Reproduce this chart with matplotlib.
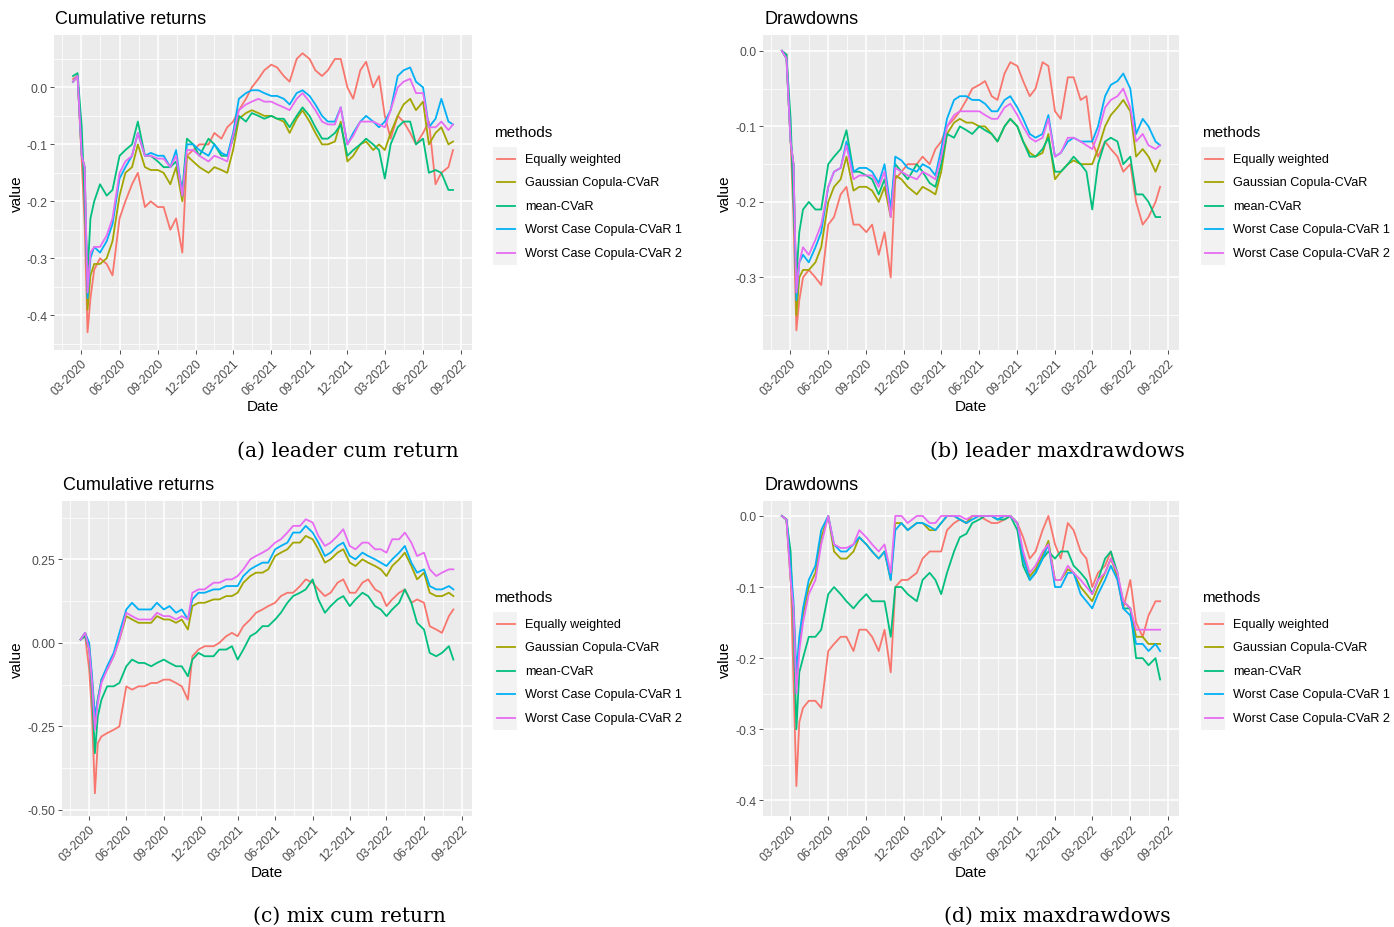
import matplotlib
matplotlib.use("Agg")
import matplotlib.pyplot as plt
import matplotlib.dates as mdates
from matplotlib.ticker import FixedLocator, FormatStrFormatter
from matplotlib.patches import Rectangle
from matplotlib.lines import Line2D
import pandas as pd

plt.rcParams["font.family"] = ["Liberation Sans", "DejaVu Sans"]
plt.rcParams["axes.unicode_minus"] = False

dates = [
    "2020-02-10", "2020-02-21", "2020-03-02", "2020-03-09", "2020-03-16", "2020-03-23", "2020-04-01", "2020-04-15",
    "2020-05-01", "2020-05-15", "2020-06-01", "2020-06-15", "2020-07-01", "2020-07-15", "2020-08-01", "2020-08-15",
    "2020-09-01", "2020-09-15", "2020-10-01", "2020-10-15", "2020-10-30", "2020-11-10", "2020-11-25", "2020-12-10",
    "2021-01-01", "2021-01-15", "2021-02-01", "2021-02-15", "2021-03-01", "2021-03-15", "2021-04-01", "2021-04-15",
    "2021-05-01", "2021-05-15", "2021-06-01", "2021-06-15", "2021-07-01", "2021-07-15", "2021-08-01", "2021-08-15",
    "2021-09-01", "2021-09-15", "2021-10-01", "2021-10-15", "2021-11-01", "2021-11-15", "2021-12-01", "2021-12-15",
    "2022-01-01", "2022-01-15", "2022-02-01", "2022-02-15", "2022-03-01", "2022-03-15", "2022-04-01", "2022-04-15",
    "2022-05-01", "2022-05-15", "2022-06-01", "2022-06-15", "2022-07-01", "2022-07-15", "2022-08-01", "2022-08-12",
]

methods = ["Equally weighted", "Gaussian Copula-CVaR", "mean-CVaR",
           "Worst Case Copula-CVaR 1", "Worst Case Copula-CVaR 2"]
colors = ["#F8766D", "#A3A500", "#00BF7D", "#00B0F6", "#E76BF3"]

# (a) leader cumulative returns
lead_cum_eq = [
    0.015, 0.02, -0.13, -0.24, -0.43, -0.37, -0.32, -0.30,
    -0.31, -0.33, -0.23, -0.20, -0.17, -0.15, -0.21, -0.20,
    -0.21, -0.21, -0.25, -0.23, -0.29, -0.12, -0.11, -0.10,
    -0.10, -0.08, -0.09, -0.07, -0.06, -0.04, -0.02, 0.0,
    0.015, 0.03, 0.04, 0.035, 0.02, 0.01, 0.05, 0.06,
    0.05, 0.03, 0.02, 0.03, 0.05, 0.05, 0.0, -0.02,
    0.03, 0.045, 0.0, 0.02, -0.05, -0.09, -0.05, -0.06,
    -0.08, -0.10, -0.08, -0.06, -0.17, -0.15, -0.14, -0.11,
]
lead_cum_gauss = [
    0.01, 0.02, -0.12, -0.14, -0.39, -0.33, -0.31, -0.31,
    -0.30, -0.27, -0.19, -0.15, -0.14, -0.10, -0.14, -0.145,
    -0.145, -0.15, -0.17, -0.14, -0.20, -0.12, -0.13, -0.14,
    -0.15, -0.14, -0.145, -0.15, -0.11, -0.055, -0.045, -0.04,
    -0.045, -0.05, -0.05, -0.055, -0.06, -0.08, -0.055, -0.04,
    -0.06, -0.08, -0.10, -0.10, -0.095, -0.06, -0.13, -0.12,
    -0.10, -0.095, -0.11, -0.10, -0.11, -0.08, -0.05, -0.03,
    -0.02, -0.04, -0.025, -0.10, -0.08, -0.07, -0.10, -0.095,
]
lead_cum_mcvar = [
    0.02, 0.025, -0.07, -0.20, -0.33, -0.23, -0.20, -0.17,
    -0.19, -0.18, -0.12, -0.11, -0.10, -0.06, -0.12, -0.12,
    -0.13, -0.14, -0.14, -0.13, -0.18, -0.09, -0.10, -0.12,
    -0.09, -0.10, -0.12, -0.12, -0.09, -0.05, -0.06, -0.045,
    -0.05, -0.055, -0.05, -0.055, -0.055, -0.07, -0.05, -0.035,
    -0.05, -0.07, -0.09, -0.09, -0.08, -0.065, -0.12, -0.11,
    -0.10, -0.09, -0.10, -0.11, -0.16, -0.10, -0.07, -0.06,
    -0.06, -0.10, -0.09, -0.15, -0.145, -0.15, -0.18, -0.18,
]
lead_cum_wc1 = [
    0.01, 0.02, -0.12, -0.14, -0.37, -0.30, -0.28, -0.29,
    -0.27, -0.24, -0.16, -0.14, -0.12, -0.08, -0.12, -0.115,
    -0.12, -0.12, -0.14, -0.11, -0.19, -0.10, -0.10, -0.11,
    -0.12, -0.10, -0.115, -0.12, -0.08, -0.02, -0.01, -0.005,
    -0.005, -0.01, -0.015, -0.015, -0.02, -0.03, -0.01, -0.005,
    -0.015, -0.03, -0.05, -0.06, -0.06, -0.035, -0.10, -0.08,
    -0.06, -0.05, -0.06, -0.07, -0.06, -0.04, 0.02, 0.03,
    0.035, 0.01, 0.0, -0.07, -0.055, -0.02, -0.06, -0.065,
]
lead_cum_wc2 = [
    0.01, 0.02, -0.12, -0.14, -0.36, -0.29, -0.28, -0.28,
    -0.26, -0.23, -0.15, -0.13, -0.12, -0.08, -0.12, -0.12,
    -0.125, -0.125, -0.14, -0.12, -0.19, -0.11, -0.11, -0.12,
    -0.13, -0.12, -0.125, -0.13, -0.085, -0.04, -0.03, -0.025,
    -0.02, -0.025, -0.025, -0.03, -0.035, -0.04, -0.02, -0.01,
    -0.025, -0.04, -0.06, -0.065, -0.065, -0.035, -0.10, -0.085,
    -0.06, -0.06, -0.06, -0.065, -0.07, -0.04, 0.0, 0.01,
    0.015, -0.01, -0.01, -0.07, -0.07, -0.06, -0.075, -0.065,
]

# (b) leader drawdowns
lead_dd_eq = [
    0.0, -0.005, -0.12, -0.22, -0.37, -0.33, -0.30, -0.29,
    -0.30, -0.31, -0.23, -0.22, -0.19, -0.18, -0.23, -0.23,
    -0.24, -0.23, -0.27, -0.24, -0.30, -0.17, -0.16, -0.15,
    -0.15, -0.14, -0.15, -0.13, -0.12, -0.10, -0.09, -0.08,
    -0.065, -0.05, -0.045, -0.04, -0.06, -0.065, -0.03, -0.015,
    -0.02, -0.04, -0.06, -0.05, -0.015, -0.02, -0.08, -0.09,
    -0.035, -0.035, -0.065, -0.06, -0.12, -0.14, -0.12, -0.13,
    -0.14, -0.16, -0.15, -0.20, -0.23, -0.22, -0.20, -0.18,
]
lead_dd_gauss = [
    0.0, -0.01, -0.12, -0.15, -0.35, -0.30, -0.29, -0.29,
    -0.28, -0.26, -0.20, -0.18, -0.17, -0.14, -0.185, -0.18,
    -0.18, -0.185, -0.20, -0.18, -0.22, -0.165, -0.17, -0.18,
    -0.19, -0.18, -0.185, -0.19, -0.16, -0.11, -0.095, -0.09,
    -0.095, -0.095, -0.10, -0.10, -0.11, -0.12, -0.10, -0.09,
    -0.10, -0.12, -0.135, -0.14, -0.135, -0.11, -0.17, -0.16,
    -0.15, -0.145, -0.15, -0.15, -0.15, -0.13, -0.10, -0.085,
    -0.075, -0.065, -0.08, -0.14, -0.13, -0.14, -0.16, -0.145,
]
lead_dd_mcvar = [
    0.0, -0.005, -0.09, -0.20, -0.30, -0.24, -0.21, -0.20,
    -0.21, -0.21, -0.15, -0.14, -0.13, -0.105, -0.16, -0.16,
    -0.165, -0.17, -0.19, -0.17, -0.21, -0.15, -0.16, -0.17,
    -0.15, -0.16, -0.175, -0.18, -0.15, -0.11, -0.115, -0.10,
    -0.105, -0.11, -0.10, -0.105, -0.11, -0.12, -0.10, -0.09,
    -0.10, -0.12, -0.14, -0.14, -0.13, -0.115, -0.16, -0.16,
    -0.15, -0.14, -0.15, -0.16, -0.21, -0.15, -0.12, -0.115,
    -0.12, -0.15, -0.14, -0.19, -0.19, -0.20, -0.22, -0.22,
]
lead_dd_wc1 = [
    0.0, -0.01, -0.12, -0.15, -0.33, -0.28, -0.27, -0.28,
    -0.26, -0.24, -0.18, -0.16, -0.155, -0.12, -0.16, -0.155,
    -0.155, -0.16, -0.175, -0.15, -0.21, -0.14, -0.145, -0.155,
    -0.16, -0.15, -0.155, -0.165, -0.13, -0.09, -0.065, -0.06,
    -0.06, -0.065, -0.065, -0.07, -0.08, -0.08, -0.065, -0.06,
    -0.075, -0.09, -0.11, -0.115, -0.11, -0.085, -0.14, -0.135,
    -0.12, -0.115, -0.12, -0.12, -0.12, -0.10, -0.06, -0.045,
    -0.04, -0.03, -0.05, -0.11, -0.09, -0.10, -0.12, -0.125,
]
lead_dd_wc2 = [
    0.0, -0.01, -0.12, -0.15, -0.32, -0.28, -0.26, -0.27,
    -0.25, -0.23, -0.18, -0.16, -0.155, -0.125, -0.17, -0.165,
    -0.165, -0.165, -0.18, -0.16, -0.22, -0.155, -0.16, -0.165,
    -0.17, -0.16, -0.165, -0.17, -0.14, -0.10, -0.085, -0.08,
    -0.08, -0.08, -0.08, -0.085, -0.09, -0.09, -0.075, -0.07,
    -0.085, -0.10, -0.115, -0.12, -0.115, -0.09, -0.14, -0.135,
    -0.115, -0.115, -0.12, -0.125, -0.13, -0.11, -0.075, -0.065,
    -0.06, -0.05, -0.075, -0.12, -0.11, -0.125, -0.13, -0.125,
]

# (c) mix cumulative returns
mix_cum_eq = [
    0.01, 0.02, -0.08, -0.22, -0.45, -0.30, -0.28, -0.27,
    -0.26, -0.25, -0.13, -0.14, -0.13, -0.13, -0.12, -0.12,
    -0.11, -0.11, -0.12, -0.13, -0.17, -0.04, -0.02, -0.01,
    -0.01, 0.0, 0.02, 0.03, 0.02, 0.05, 0.07, 0.09,
    0.10, 0.11, 0.12, 0.14, 0.15, 0.15, 0.17, 0.19,
    0.18, 0.16, 0.14, 0.15, 0.18, 0.19, 0.15, 0.15,
    0.18, 0.19, 0.16, 0.15, 0.11, 0.13, 0.15, 0.16,
    0.12, 0.13, 0.12, 0.05, 0.04, 0.03, 0.08, 0.10,
]
mix_cum_gauss = [
    0.01, 0.03, -0.01, -0.11, -0.23, -0.17, -0.11, -0.08,
    -0.04, 0.01, 0.08, 0.07, 0.06, 0.06, 0.06, 0.08,
    0.07, 0.07, 0.06, 0.07, 0.04, 0.11, 0.12, 0.12,
    0.13, 0.13, 0.14, 0.14, 0.15, 0.18, 0.20, 0.21,
    0.21, 0.22, 0.26, 0.27, 0.28, 0.30, 0.30, 0.32,
    0.31, 0.28, 0.24, 0.25, 0.27, 0.28, 0.24, 0.23,
    0.25, 0.24, 0.23, 0.22, 0.20, 0.23, 0.25, 0.27,
    0.23, 0.19, 0.21, 0.15, 0.14, 0.14, 0.15, 0.14,
]
mix_cum_mcvar = [
    0.01, 0.02, -0.02, -0.15, -0.33, -0.22, -0.17, -0.13,
    -0.13, -0.12, -0.07, -0.05, -0.06, -0.06, -0.07, -0.06,
    -0.05, -0.06, -0.07, -0.07, -0.10, -0.05, -0.03, -0.04,
    -0.04, -0.02, -0.02, -0.01, -0.05, -0.02, 0.02, 0.03,
    0.05, 0.05, 0.07, 0.09, 0.12, 0.14, 0.15, 0.16,
    0.19, 0.13, 0.09, 0.11, 0.13, 0.14, 0.11, 0.13,
    0.15, 0.14, 0.11, 0.10, 0.08, 0.10, 0.12, 0.16,
    0.12, 0.06, 0.04, -0.03, -0.04, -0.03, -0.01, -0.05,
]
mix_cum_wc1 = [
    0.01, 0.03, 0.0, -0.10, -0.22, -0.17, -0.11, -0.07,
    -0.03, 0.03, 0.10, 0.12, 0.10, 0.10, 0.10, 0.12,
    0.10, 0.11, 0.09, 0.10, 0.07, 0.13, 0.15, 0.15,
    0.16, 0.16, 0.17, 0.17, 0.17, 0.20, 0.22, 0.23,
    0.24, 0.24, 0.28, 0.29, 0.30, 0.33, 0.33, 0.35,
    0.33, 0.30, 0.26, 0.27, 0.29, 0.30, 0.26, 0.25,
    0.27, 0.26, 0.25, 0.24, 0.23, 0.25, 0.27, 0.29,
    0.24, 0.21, 0.22, 0.17, 0.16, 0.16, 0.17, 0.16,
]
mix_cum_wc2 = [
    0.01, 0.03, -0.02, -0.12, -0.26, -0.18, -0.12, -0.08,
    -0.04, 0.01, 0.09, 0.08, 0.07, 0.07, 0.07, 0.09,
    0.08, 0.08, 0.07, 0.08, 0.07, 0.15, 0.16, 0.16,
    0.18, 0.18, 0.19, 0.19, 0.20, 0.22, 0.25, 0.26,
    0.27, 0.28, 0.30, 0.31, 0.33, 0.35, 0.35, 0.37,
    0.36, 0.32, 0.29, 0.30, 0.32, 0.34, 0.29, 0.28,
    0.30, 0.30, 0.28, 0.28, 0.27, 0.31, 0.31, 0.33,
    0.30, 0.26, 0.27, 0.22, 0.20, 0.21, 0.22, 0.22,
]

# (d) mix drawdowns
mix_dd_eq = [
    0.0, -0.005, -0.08, -0.23, -0.38, -0.29, -0.27, -0.26,
    -0.26, -0.27, -0.19, -0.18, -0.17, -0.17, -0.19, -0.16,
    -0.16, -0.17, -0.19, -0.16, -0.22, -0.10, -0.09, -0.09,
    -0.08, -0.06, -0.05, -0.05, -0.05, -0.02, -0.01, -0.005,
    -0.01, 0.0, 0.0, -0.005, -0.01, -0.01, -0.005, 0.0,
    -0.01, -0.03, -0.06, -0.05, -0.02, 0.0, -0.04, -0.06,
    -0.01, -0.02, -0.05, -0.06, -0.10, -0.08, -0.07, -0.05,
    -0.09, -0.13, -0.09, -0.15, -0.17, -0.14, -0.12, -0.12,
]
mix_dd_gauss = [
    0.0, -0.005, -0.09, -0.13, -0.24, -0.18, -0.14, -0.10,
    -0.08, -0.03, 0.0, -0.05, -0.06, -0.06, -0.05, -0.03,
    -0.04, -0.05, -0.06, -0.05, -0.09, -0.01, -0.01, -0.02,
    -0.01, -0.01, -0.02, -0.02, -0.01, 0.0, 0.0, -0.005,
    -0.01, 0.0, 0.0, 0.0, 0.0, -0.005, 0.0, 0.0,
    -0.01, -0.055, -0.085, -0.075, -0.055, -0.035, -0.09, -0.09,
    -0.075, -0.08, -0.10, -0.11, -0.12, -0.10, -0.08, -0.06,
    -0.085, -0.12, -0.13, -0.17, -0.17, -0.18, -0.18, -0.18,
]
mix_dd_mcvar = [
    0.0, -0.005, -0.05, -0.15, -0.30, -0.22, -0.20, -0.17,
    -0.17, -0.16, -0.11, -0.10, -0.11, -0.12, -0.13, -0.12,
    -0.11, -0.12, -0.12, -0.12, -0.17, -0.10, -0.10, -0.11,
    -0.12, -0.09, -0.08, -0.09, -0.11, -0.08, -0.05, -0.03,
    -0.025, -0.01, -0.005, 0.0, 0.0, -0.005, -0.005, 0.0,
    -0.02, -0.07, -0.09, -0.08, -0.06, -0.05, -0.06, -0.05,
    -0.05, -0.07, -0.08, -0.09, -0.11, -0.09, -0.06, -0.05,
    -0.08, -0.13, -0.13, -0.20, -0.20, -0.21, -0.20, -0.23,
]
mix_dd_wc1 = [
    0.0, -0.005, -0.07, -0.12, -0.22, -0.17, -0.13, -0.09,
    -0.07, -0.02, 0.0, -0.04, -0.05, -0.05, -0.04, -0.03,
    -0.04, -0.05, -0.06, -0.05, -0.09, -0.02, -0.01, -0.02,
    -0.01, -0.01, -0.015, -0.02, -0.01, 0.0, 0.0, -0.005,
    -0.01, -0.005, 0.0, 0.0, 0.0, -0.005, 0.0, 0.0,
    -0.01, -0.06, -0.09, -0.08, -0.06, -0.04, -0.10, -0.10,
    -0.08, -0.08, -0.11, -0.12, -0.13, -0.11, -0.09, -0.07,
    -0.09, -0.13, -0.14, -0.18, -0.18, -0.19, -0.18, -0.19,
]
mix_dd_wc2 = [
    0.0, -0.005, -0.09, -0.13, -0.25, -0.19, -0.15, -0.11,
    -0.09, -0.04, 0.0, -0.04, -0.045, -0.045, -0.04, -0.02,
    -0.03, -0.04, -0.05, -0.04, -0.08, 0.0, 0.0, -0.01,
    0.0, 0.0, -0.01, -0.01, 0.0, 0.0, 0.0, 0.0,
    -0.005, 0.0, 0.0, 0.0, 0.0, 0.0, 0.0, 0.0,
    -0.01, -0.05, -0.08, -0.07, -0.05, -0.04, -0.09, -0.09,
    -0.07, -0.08, -0.09, -0.10, -0.11, -0.09, -0.08, -0.06,
    -0.08, -0.12, -0.13, -0.16, -0.16, -0.16, -0.16, -0.16,
]

W, H = 1394, 928
fig = plt.figure(figsize=(W / 100, H / 100), dpi=100)
x = pd.to_datetime(dates)

majors = pd.date_range("2019-12-01", "2022-12-01", freq="3MS")
minors = majors[:-1] + (majors[1:] - majors[:-1]) / 2


def px(xp, yp):
    return xp / W, 1 - yp / H


def panel(rect, series, ylim, yticks, yminor, fmt, title, caption, cap_x, cap_y, lab_x, leg_x, leg_y):
    x0, y0, x1, y1 = rect
    ax = fig.add_axes([x0 / W, 1 - y1 / H, (x1 - x0) / W, (y1 - y0) / H])
    ax.set_facecolor("#EBEBEB")
    for s in ax.spines.values():
        s.set_visible(False)
    for vals, c in zip(series, colors):
        ax.plot(x, vals, color=c, lw=1.3)
    ax.margins(x=0.05)
    ax.set_ylim(*ylim)
    ax.yaxis.set_major_locator(FixedLocator(yticks))
    ax.yaxis.set_minor_locator(FixedLocator(yminor))
    ax.yaxis.set_major_formatter(FormatStrFormatter(fmt))
    ax.xaxis.set_major_locator(FixedLocator(mdates.date2num(majors)))
    ax.xaxis.set_minor_locator(FixedLocator(mdates.date2num(minors)))
    ax.xaxis.set_major_formatter(mdates.DateFormatter("%m-%Y"))
    ax.grid(which="major", color="white", lw=1.1)
    ax.grid(which="minor", color="white", lw=0.55)
    ax.set_axisbelow(True)
    ax.tick_params(which="major", length=2.75, width=0.6, color="#333333",
                   labelsize=8.8, labelcolor="#4D4D4D", pad=2)
    ax.tick_params(which="minor", length=0)
    for lab in ax.get_xticklabels():
        lab.set_rotation(45)
        lab.set_ha("right")
        lab.set_rotation_mode("anchor")

    fig.text(*px(x0 + 1, y0 - 17), title, fontsize=13, va="center", ha="left")
    fig.text(*px((x0 + x1) / 2, y1 + 56), "Date", fontsize=11, va="center", ha="center")
    fig.text(*px(lab_x, (y0 + y1) / 2), "value", fontsize=11, va="center", ha="center", rotation=90)
    fig.text(*px(cap_x, cap_y), caption, fontsize=14.6, va="center", ha="center",
             family="DejaVu Serif")

    # legend
    fig.text(*px(leg_x, leg_y), "methods", fontsize=11, va="center", ha="left")
    top = leg_y + 15
    pitch = 23.5
    bx, by = px(leg_x - 1, top + 5 * pitch)
    fig.patches.append(Rectangle((bx, by), 24 / W, 5 * pitch / H, transform=fig.transFigure,
                                 facecolor="#F2F2F2", edgecolor="none", zorder=0))
    for i, (name, c) in enumerate(zip(methods, colors)):
        yc = top + pitch / 2 + i * pitch
        xa, ya = px(leg_x + 3, yc)
        xb, _ = px(leg_x + 21, yc)
        fig.lines.append(Line2D([xa, xb], [ya, ya], transform=fig.transFigure, color=c, lw=1.3))
        fig.text(*px(leg_x + 31, yc), name, fontsize=9.1, va="center", ha="left")
    return ax


panel((54, 36, 472, 351),
      [lead_cum_eq, lead_cum_gauss, lead_cum_mcvar, lead_cum_wc1, lead_cum_wc2],
      (-0.461, 0.092), [-0.4, -0.3, -0.2, -0.1, 0.0], [-0.45, -0.35, -0.25, -0.15, -0.05, 0.05],
      "%.1f", "Cumulative returns", "(a) leader cum return", 348, 451, 17, 494, 133)
panel((763, 36, 1179, 351),
      [lead_dd_eq, lead_dd_gauss, lead_dd_mcvar, lead_dd_wc1, lead_dd_wc2],
      (-0.396, 0.021), [-0.3, -0.2, -0.1, 0.0], [-0.35, -0.25, -0.15, -0.05],
      "%.1f", "Drawdowns", "(b) leader maxdrawdows", 1057, 451, 725, 1202, 133)
panel((62, 502, 472, 817),
      [mix_cum_eq, mix_cum_gauss, mix_cum_mcvar, mix_cum_wc1, mix_cum_wc2],
      (-0.518, 0.4245), [-0.5, -0.25, 0.0, 0.25], [-0.375, -0.125, 0.125, 0.375],
      "%.2f", "Cumulative returns", "(c) mix cum return", 349, 916, 17, 494, 598)
panel((763, 502, 1179, 817),
      [mix_dd_eq, mix_dd_gauss, mix_dd_mcvar, mix_dd_wc1, mix_dd_wc2],
      (-0.422, 0.021), [-0.4, -0.3, -0.2, -0.1, 0.0], [-0.35, -0.25, -0.15, -0.05],
      "%.1f", "Drawdowns", "(d) mix maxdrawdows", 1057, 916, 725, 1202, 598)

fig.savefig("out.png", dpi=100, facecolor="white")
